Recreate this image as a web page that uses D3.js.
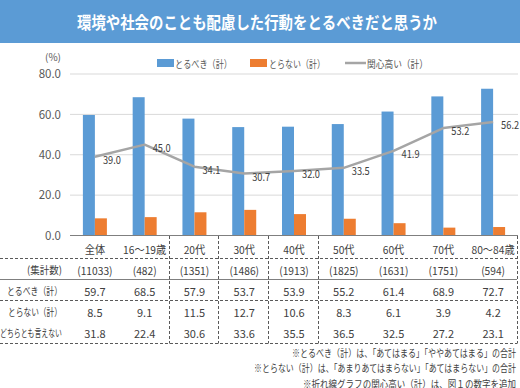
<!DOCTYPE html>
<html>
<head>
<meta charset="utf-8">
<script src="https://cdn.jsdelivr.net/npm/d3@7"></script>
<style>
  body { margin: 0; background: #fff; }
  svg text { font-family: "Noto Sans CJK JP", "Noto Sans", sans-serif; }
</style>
</head>
<body>
<svg id="chart" width="520" height="388"></svg>
<script>
// data
var categories = ['全体', '16～19歳', '20代', '30代', '40代', '50代', '60代', '70代', '80～84歳'];
var counts = ['(11033)', '(482)', '(1351)', '(1486)', '(1913)', '(1825)', '(1631)', '(1751)', '(594)'];
var toruBeki = [59.7, 68.5, 57.9, 53.7, 53.9, 55.2, 61.4, 68.9, 72.7];
var toranai = [8.5, 9.1, 11.5, 12.7, 10.6, 8.3, 6.1, 3.9, 4.2];
var dochira = [31.8, 22.4, 30.6, 33.6, 35.5, 36.5, 32.5, 27.2, 23.1];
var kanshin = [39.0, 45.0, 34.1, 30.7, 32.0, 33.5, 41.9, 53.2, 56.2];
var yTicks = [0, 20, 40, 60, 80];
var legendNames = ['とるべき（計）', 'とらない（計）', '関心高い（計）'];
var rowLabels = ['(集計数)', 'とるべき（計）', 'とらない（計）', 'どちらとも言えない'];
var notes = [
  '※とるべき（計）は、「あてはまる」「ややあてはまる」の合計',
  '※とらない（計）は、「あまりあてはまらない」「あてはまらない」の合計',
  '※折れ線グラフの関心高い（計）は、図１の数字を追加'
];

var blue = '#5B9BD5', orange = '#ED7D31', grey = '#A5A5A5', txt = '#404040';
var svg = d3.select('#chart');

// the reference font is narrower than Noto, squeeze texts to the widths seen
var squeeze = function(sel, w) {
  sel.attr('textLength', w).attr('lengthAdjust', 'spacingAndGlyphs');
  return sel;
};
var shrink = function(sel, f) {
  sel.each(function() {
    var len = this.getComputedTextLength();
    d3.select(this).attr('textLength', len * f).attr('lengthAdjust', 'spacingAndGlyphs');
  });
};

// title bar
svg.append('rect').attr('x', 0).attr('y', 0).attr('width', 520).attr('height', 43).attr('fill', blue);
squeeze(svg.append('text').attr('x', 77).attr('y', 21.5)
  .attr('dominant-baseline', 'central').attr('fill', '#fff')
  .attr('font-size', 17).attr('font-weight', 'bold')
  .text('環境や社会のことも配慮した行動をとるべきだと思うか'), 360);

var x = d3.scaleBand().domain(categories).range([70, 518]);
var y = d3.scaleLinear().domain([0, 80]).range([235.5, 74]);
var cx = function(i) { return x(categories[i]) + x.bandwidth() / 2; };

// grid
svg.append('g').selectAll('line').data(yTicks.slice(1)).join('line')
  .attr('x1', 70).attr('x2', 518)
  .attr('y1', function(d) { return y(d); }).attr('y2', function(d) { return y(d); })
  .attr('stroke', '#D9D9D9').attr('stroke-width', 1);

// y axis labels
var yAxis = svg.append('g').attr('transform', 'translate(70,0)')
  .call(d3.axisLeft(y).tickValues(yTicks).tickSize(0).tickPadding(9).tickFormat(d3.format('.1f')));
yAxis.select('.domain').remove();
yAxis.selectAll('text').attr('font-size', 11.5).attr('fill', '#595959')
  .style('font-family', '"Noto Sans CJK JP", sans-serif');

svg.append('text').attr('x', 45).attr('y', 61).attr('font-size', 10).attr('fill', '#595959').text('(%)');

// bars
var bw = 12;
svg.append('g').selectAll('rect').data(toruBeki).join('rect')
  .attr('x', function(d, i) { return cx(i) - bw; })
  .attr('y', function(d) { return y(d); })
  .attr('width', bw).attr('height', function(d) { return y(0) - y(d); })
  .attr('fill', blue);
svg.append('g').selectAll('rect').data(toranai).join('rect')
  .attr('x', function(d, i) { return cx(i); })
  .attr('y', function(d) { return y(d); })
  .attr('width', bw).attr('height', function(d) { return y(0) - y(d); })
  .attr('fill', orange);

// baseline
svg.append('line').attr('x1', 70).attr('x2', 518).attr('y1', y(0)).attr('y2', y(0))
  .attr('stroke', '#7F7F7F').attr('stroke-width', 1);

// line
var line = d3.line()
  .x(function(d, i) { return cx(i); })
  .y(function(d) { return y(d); });
svg.append('path').datum(kanshin).attr('d', line)
  .attr('fill', 'none').attr('stroke', grey).attr('stroke-width', 2.5).attr('stroke-linejoin', 'round');
svg.append('g').selectAll('text').data(kanshin).join('text')
  .attr('x', function(d, i) { return cx(i) + 8; })
  .attr('y', function(d) { return y(d) + 2; })
  .attr('dominant-baseline', 'central').attr('font-size', 11).attr('fill', txt)
  .attr('textLength', 18).attr('lengthAdjust', 'spacingAndGlyphs')
  .text(function(d) { return d.toFixed(1); });

// legend
var lg = svg.append('g');
var legendW = [57, 56, 61];
var legendX = [175, 269, 367];
lg.append('rect').attr('x', 157).attr('y', 59).attr('width', 17).attr('height', 8).attr('fill', blue);
lg.append('rect').attr('x', 250).attr('y', 59).attr('width', 17).attr('height', 8).attr('fill', orange);
lg.append('line').attr('x1', 345).attr('x2', 366).attr('y1', 63).attr('y2', 63).attr('stroke', grey).attr('stroke-width', 2.5);
legendNames.forEach(function(n, i) {
  squeeze(lg.append('text').attr('x', legendX[i]).attr('y', 63).attr('dominant-baseline', 'central')
    .attr('font-size', 10.5).attr('fill', '#595959').text(n), legendW[i]);
});

// table
var tbl = svg.append('g');
var rowY = [249, 269.5, 290.5, 311.5, 332.5];
var dash = '3,2';
[[258.5, true], [279.5, false], [300.5, true], [343.5, true]].forEach(function(h) {
  tbl.append('line').attr('x1', 0).attr('x2', 517).attr('y1', h[0]).attr('y2', h[0])
    .attr('stroke', h[1] ? '#595959' : '#7F7F7F').attr('stroke-width', 1)
    .attr('stroke-dasharray', h[1] ? dash : null);
});
[2, 3, 4, 5].forEach(function(k) {
  var xv = Math.round(x(categories[k])) - 0.5;
  tbl.append('line').attr('x1', xv).attr('x2', xv).attr('y1', 236).attr('y2', 343.5)
    .attr('stroke', '#595959').attr('stroke-dasharray', dash);
});
tbl.append('line').attr('x1', 517.5).attr('x2', 517.5).attr('y1', 236).attr('y2', 343.5)
  .attr('stroke', '#595959').attr('stroke-dasharray', dash);

var cols = [categories, counts,
  toruBeki.map(function(d) { return d.toFixed(1); }),
  toranai.map(function(d) { return d.toFixed(1); }),
  dochira.map(function(d) { return d.toFixed(1); })];
cols.forEach(function(row, r) {
  var t = tbl.append('g').selectAll('text').data(row).join('text')
    .attr('x', function(d, i) { return cx(i); })
    .attr('y', rowY[r]).attr('text-anchor', 'middle').attr('dominant-baseline', 'central')
    .attr('font-size', 11).attr('fill', txt).text(function(d) { return d; });
  if (r < 2) shrink(t, 0.93);
});
var rowW = [35, 55, 54, 62];
rowLabels.forEach(function(l, r) {
  squeeze(tbl.append('text').attr('x', 62).attr('y', rowY[r + 1]).attr('text-anchor', 'end')
    .attr('dominant-baseline', 'central').attr('font-size', 10.5).attr('fill', txt).text(l), rowW[r]);
});

// notes
var noteW = [224, 262, 213];
notes.forEach(function(n, i) {
  squeeze(svg.append('text').attr('x', 516).attr('y', 352 + i * 15.5).attr('text-anchor', 'end')
    .attr('dominant-baseline', 'central').attr('font-size', 10).attr('fill', txt).text(n), noteW[i]);
});
</script>
</body>
</html>
